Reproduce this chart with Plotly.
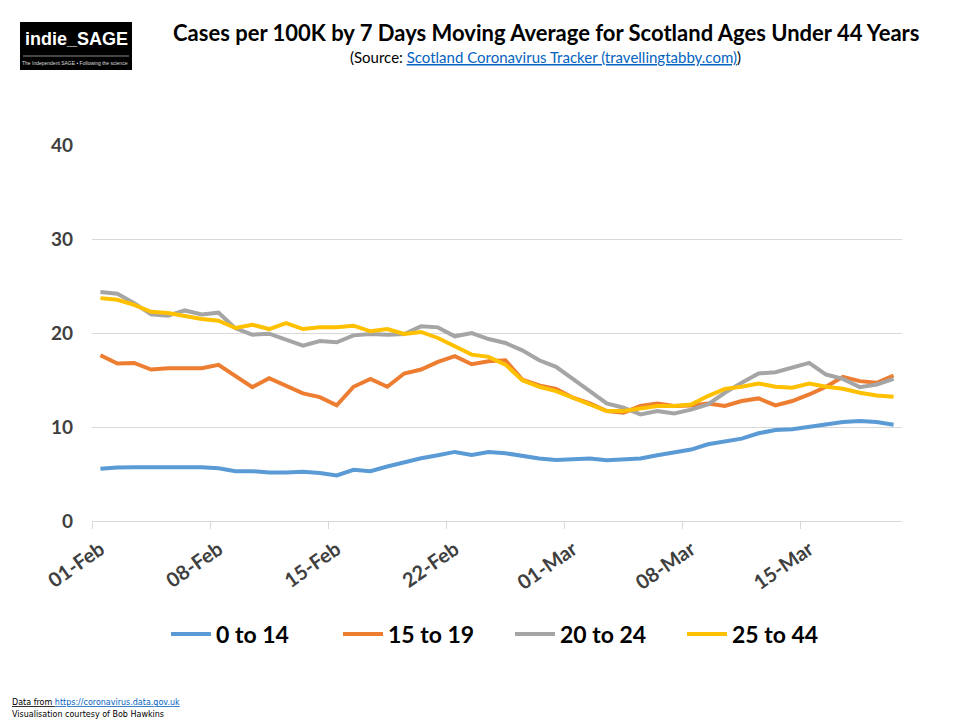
import plotly.graph_objects as go
import pandas as pd

dates = [d.strftime("%d-%b") for d in pd.date_range("2021-02-01", "2021-03-20", freq="D")]
tick_labels = ["01-Feb", "08-Feb", "15-Feb", "22-Feb", "01-Mar", "08-Mar", "15-Mar"]

age_0_14 = [5.55, 5.69, 5.72, 5.72, 5.72, 5.72, 5.72, 5.60, 5.30, 5.30, 5.16, 5.16,
            5.25, 5.10, 4.85, 5.45, 5.30, 5.80, 6.29, 6.68, 7.00, 7.35, 7.03, 7.35,
            7.21, 6.93, 6.64, 6.50, 6.57, 6.64, 6.47, 6.57, 6.64, 7.00, 7.35, 7.60,
            8.16, 8.48, 8.76, 9.33, 9.68, 9.75, 10.04, 10.28, 10.53, 10.64, 10.53, 10.25]
age_15_19 = [17.63, 16.75, 16.82, 16.11, 16.25, 16.25, 16.25, 16.61, 15.41, 14.24, 15.19, 14.35,
             13.57, 13.18, 12.30, 14.28, 15.12, 14.28, 15.69, 16.11, 16.93, 17.53, 16.68, 17.00,
             17.10, 15.05, 14.42, 14.06, 13.11, 12.51, 11.70, 11.52, 12.23, 12.51, 12.23, 12.30,
             12.51, 12.23, 12.76, 13.04, 12.30, 12.76, 13.46, 14.28, 15.34, 14.88, 14.70, 15.48]
age_20_24 = [24.35, 24.17, 23.18, 21.98, 21.84, 22.40, 21.98, 22.16, 20.49, 19.82, 19.93, 19.29,
             18.66, 19.15, 19.01, 19.75, 19.89, 19.82, 19.89, 20.71, 20.60, 19.65, 20.00, 19.36,
             18.94, 18.16, 17.10, 16.40, 15.05, 13.82, 12.51, 12.05, 11.34, 11.70, 11.45, 11.85,
             12.40, 13.64, 14.70, 15.69, 15.83, 16.29, 16.82, 15.58, 15.12, 14.24, 14.52, 15.12]
age_25_44 = [23.71, 23.53, 23.00, 22.26, 22.12, 21.77, 21.48, 21.31, 20.53, 20.88, 20.42, 21.06,
             20.42, 20.60, 20.60, 20.78, 20.18, 20.42, 19.89, 20.11, 19.47, 18.59, 17.70, 17.46,
             16.64, 14.98, 14.28, 13.82, 13.11, 12.40, 11.70, 11.70, 11.94, 12.23, 12.23, 12.40,
             13.29, 14.06, 14.28, 14.63, 14.28, 14.17, 14.63, 14.28, 14.06, 13.64, 13.36, 13.22]

series = [
    ("0 to 14", age_0_14, "#5B9BD5"),
    ("15 to 19", age_15_19, "#ED7D31"),
    ("20 to 24", age_20_24, "#A5A5A5"),
    ("25 to 44", age_25_44, "#FFC000"),
]

W, H = 960, 720
OX, OY = 8, 8            # page offset of the figure inside the browser window
ML, MT, PW, PH = 84, 137, 810, 376
MR = W - ML - PW
MB = H - MT - PH


def px(x):
    return (x - OX - ML) / PW


def py(y):
    return (H - MB - (y - OY)) / PH


fig = go.Figure()
for name, vals, col in series:
    fig.add_trace(go.Scatter(x=dates, y=vals, name=name, mode="lines",
                             line=dict(color=col, width=4)))
# empty helper trace so the tick-mark overlay axis is drawn
fig.add_trace(go.Scatter(x=[], y=[], xaxis="x2", yaxis="y", showlegend=False, hoverinfo="skip"))

xrange = [-0.5, len(dates) - 0.5]
boundary_ticks = [dates.index(t) - 0.5 for t in tick_labels]

fig.update_layout(
    width=W, height=H,
    margin=dict(l=ML, r=MR, t=MT, b=MB, autoexpand=False),
    paper_bgcolor="white", plot_bgcolor="white",
    font=dict(family="Lato", color="#404040"),
    showlegend=True,
    legend=dict(orientation="h", x=px(166), y=py(634), xanchor="left", yanchor="middle",
                font=dict(size=23, family="Lato", color="#000000", weight="bold"),
                entrywidth=117, entrywidthmode="pixels", itemwidth=40,
                bgcolor="rgba(0,0,0,0)"),
    xaxis=dict(type="category", categoryorder="array", categoryarray=dates,
               tickmode="array", tickvals=tick_labels, ticktext=tick_labels,
               ticks="", showgrid=False, showline=True, linecolor="#d9d9d9", linewidth=1,
               tickangle=-35, range=xrange, ticklabelstandoff=8,
               tickfont=dict(size=20, family="Lato", color="#404040", weight="bold")),
    xaxis2=dict(overlaying="x", anchor="y", side="bottom", range=xrange,
                tickmode="array", tickvals=boundary_ticks, ticks="outside", ticklen=7,
                tickcolor="#d9d9d9", tickwidth=1, showticklabels=False,
                showgrid=False, showline=False, zeroline=False),
    yaxis=dict(range=[0, 40], tickvals=[0, 10, 20, 30, 40], showgrid=True,
               gridcolor="#d9d9d9", gridwidth=1, zeroline=False, showline=False,
               ticks="", ticklabelstandoff=18,
               tickfont=dict(size=19, family="Lato", color="#404040", weight="bold")),
)

# Logo block
fig.add_shape(type="rect", xref="paper", yref="paper", x0=px(20), x1=px(132), y0=py(70), y1=py(22),
              fillcolor="#000000", line=dict(width=0), layer="above")
fig.add_shape(type="line", xref="paper", yref="paper", x0=px(23), x1=px(129), y0=py(56), y1=py(56),
              line=dict(color="#8a8a8a", width=1), layer="above")
fig.add_annotation(xref="paper", yref="paper", x=px(76), y=py(39), text="<b>indie_SAGE</b>", showarrow=False,
                   font=dict(size=18, family="Liberation Sans", color="white"), xanchor="center", yanchor="middle")
fig.add_annotation(xref="paper", yref="paper", x=px(75), y=py(63),
                   text="The Independent SAGE \u2022 Following the science", showarrow=False,
                   font=dict(size=5, family="Liberation Sans", color="#dddddd"), xanchor="center", yanchor="middle")

# Titles
fig.add_annotation(xref="paper", yref="paper", x=px(546), y=py(32),
                   text="<b>Cases per 100K by 7 Days Moving Average for Scotland Ages Under 44 Years</b>",
                   showarrow=False, font=dict(size=22, family="Lato", color="#000000"),
                   xanchor="center", yanchor="middle")
fig.add_annotation(xref="paper", yref="paper", x=px(545), y=py(57),
                   text="(Source: <a href='https://travellingtabby.com' style='color:#0563C1'><u>Scotland Coronavirus Tracker (travellingtabby.com)</u></a>)",
                   showarrow=False, font=dict(size=15, family="Lato", color="#000000"),
                   xanchor="center", yanchor="middle")

# Footer
fig.add_annotation(xref="paper", yref="paper", x=px(10), y=py(702),
                   text="<u>Data from </u><a href='https://coronavirus.data.gov.uk' style='color:#0563C1'><u>https://coronavirus.data.gov.uk</u></a>",
                   showarrow=False, font=dict(size=8, family="DejaVu Sans", color="#000000"),
                   xanchor="left", yanchor="middle")
fig.add_annotation(xref="paper", yref="paper", x=px(10), y=py(714),
                   text="Visualisation courtesy of Bob Hawkins",
                   showarrow=False, font=dict(size=8, family="DejaVu Sans", color="#000000"),
                   xanchor="left", yanchor="middle")

fig.write_html("out.html")
